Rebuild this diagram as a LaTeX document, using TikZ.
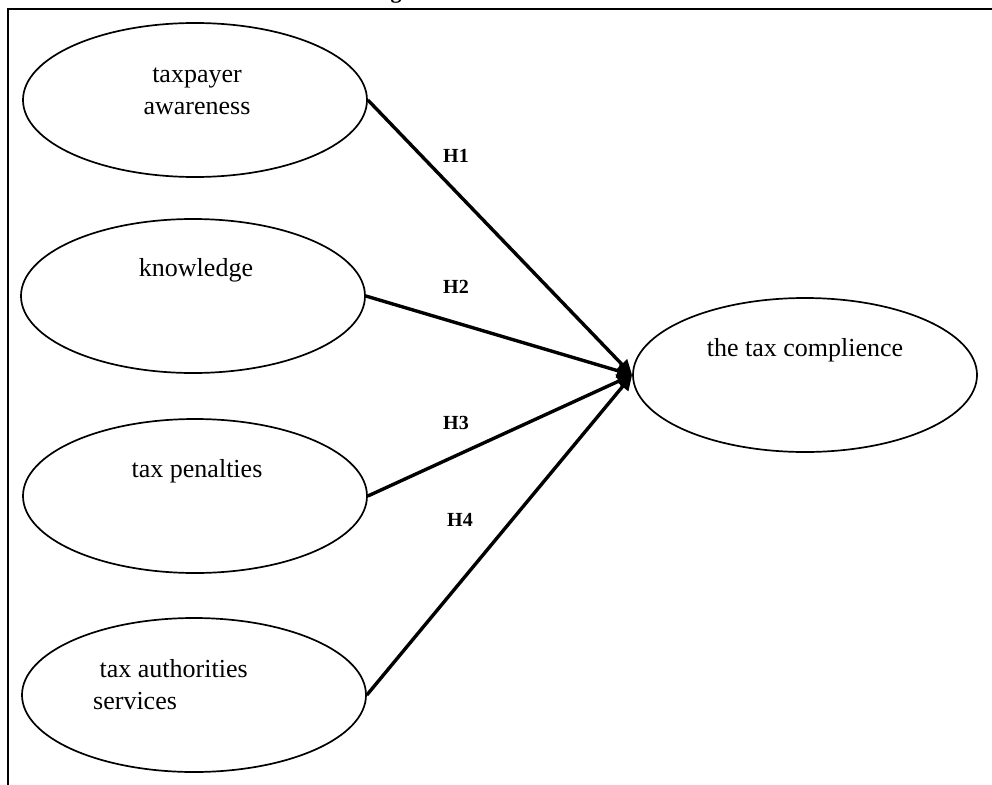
\documentclass[tikz,border=0pt]{standalone}
\usepackage{fontspec}
\setmainfont{Liberation Serif}
\usetikzlibrary{shapes.geometric,arrows.meta}
\begin{document}
\begin{tikzpicture}[x=1pt,y=-1pt,
  var/.style={ellipse,draw,line width=1.7pt,minimum width=344pt,minimum height=154pt,inner sep=0pt},
  lbl/.style={font=\fontsize{26}{32}\selectfont,inner sep=0pt},
  hyp/.style={font=\fontsize{20}{22}\selectfont\bfseries,inner sep=0pt},
  path/.style={line width=3.4pt,-{Triangle[length=15pt,width=14pt]}}]
\useasboundingbox (0,0) rectangle (992,784);
% frame (top and left edges visible)
\coordinate (ftl) at (8,9);
\coordinate (ftr) at (995,9);
\coordinate (fbl) at (8,790);
\draw[line width=2pt] (fbl) -- (ftl) -- (ftr);
% caption fragment above frame
\node[anchor=base,inner sep=0pt,font=\fontsize{22}{24}\selectfont\bfseries] (cap) at (396,-1) {g};
% variables
\node[var] (aw) at (195,100) {};
\node[var] (kn) at (193,296) {};
\node[var] (pe) at (195,496) {};
\node[var] (se) at (194,695) {};
\node[var] (tc) at (805,375) {};
% texts
\node[lbl,align=center] (awt) at (197,91) {taxpayer\\awareness};
\node[lbl] (knt) at (196,270) {knowledge};
\node[lbl] (pet) at (197,471) {tax penalties};
\node[lbl,align=left,anchor=west] (set) at (93,685) {\ tax authorities\\services};
\node[lbl] (tct) at (805,350) {the tax complience};
% paths
\draw[path] (aw.east) -- (tc.west);
\draw[path] (kn.east) -- (tc.west);
\draw[path] (pe.east) -- (tc.west);
\draw[path] (se.east) -- (tc.west);
% hypotheses
\node[hyp] (h1) at (456,156) {H1};
\node[hyp] (h2) at (456,287) {H2};
\node[hyp] (h3) at (456,423) {H3};
\node[hyp] (h4) at (460,520) {H4};
\end{tikzpicture}
\end{document}
